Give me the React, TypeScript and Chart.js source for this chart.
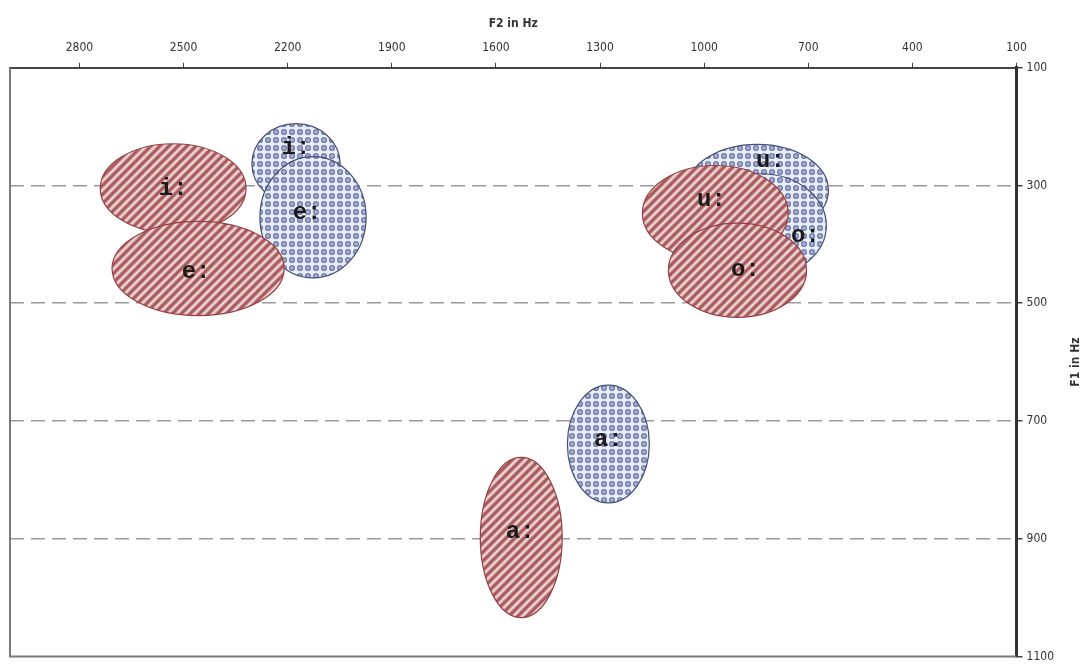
import React, { useEffect, useRef } from "react";
import { Chart, registerables } from "chart.js";

Chart.register(...registerables);

// Axis ticks
const xTicks = [100, 400, 700, 1000, 1300, 1600, 1900, 2200, 2500, 2800];
const yTicks = [100, 300, 500, 700, 900, 1100];

// Vowel labels
const vowels = ["i:", "e:", "u:", "o:", "a:"];

// Blue (cross-hatched) ellipses
const blueF2 = [2176, 2127, 847, 838, 1276];
const blueF1 = [263, 354, 308, 368, 739];
const blueRF2 = [127, 153, 205, 190, 118];
const blueRF1 = [68, 103, 78, 88, 100];
const blueLabelF2 = [2176, 2144, 809, 708, 1276];
const blueLabelF1 = [237, 347, 259, 385, 732];

// Red (striped) ellipses
const redF2 = [2530, 2458, 968, 904, 1527];
const redF1 = [305, 441, 347, 444, 898];
const redRF2 = [210, 248, 210, 199, 118];
const redRF1 = [76, 80, 81, 80, 136];
const redLabelF2 = [2530, 2464, 979, 881, 1530];
const redLabelF1 = [305, 447, 325, 444, 888];

const narrow = "'Liberation Sans Narrow', 'DejaVu Sans Condensed', 'Arial Narrow', sans-serif";

function makeRedPattern(ctx: CanvasRenderingContext2D) {
  const s = 9;
  const c = document.createElement("canvas");
  c.width = s;
  c.height = s;
  const g = c.getContext("2d")!;
  g.fillStyle = "#d4a0a0";
  g.fillRect(0, 0, s, s);
  g.lineCap = "square";
  for (let k = -1; k <= 1; k++) {
    g.strokeStyle = "#a9585a";
    g.lineWidth = 2.6;
    g.beginPath();
    g.moveTo(k * s, s);
    g.lineTo(k * s + s, 0);
    g.stroke();
    g.strokeStyle = "#f1e0e0";
    g.lineWidth = 1.5;
    g.beginPath();
    g.moveTo(k * s + s / 2, s);
    g.lineTo(k * s + s / 2 + s, 0);
    g.stroke();
  }
  g.fillStyle = "rgba(110,110,110,0.55)";
  g.beginPath();
  g.arc(s / 2, s / 2, 1, 0, Math.PI * 2);
  g.fill();
  return ctx.createPattern(c, "repeat")!;
}

function makeBluePattern(ctx: CanvasRenderingContext2D) {
  const s = 8;
  const c = document.createElement("canvas");
  c.width = s;
  c.height = s;
  const g = c.getContext("2d")!;
  g.fillStyle = "#e9edf8";
  g.fillRect(0, 0, s, s);
  g.fillStyle = "#aab4d8";
  g.beginPath();
  g.arc(s / 2, s / 2, 3, 0, Math.PI * 2);
  g.fill();
  g.strokeStyle = "#6b739c";
  g.lineWidth = 1.1;
  g.beginPath();
  g.arc(s / 2, s / 2, 2.3, 0, Math.PI * 2);
  g.stroke();
  return ctx.createPattern(c, "repeat")!;
}

const ellipsePlugin = {
  id: "ellipses",
  afterDatasetsDraw(chart: any) {
    const { ctx, scales } = chart;
    const xs = scales.x;
    const ys = scales.y;
    const red = makeRedPattern(ctx);
    const blue = makeBluePattern(ctx);
    const drawOne = (
      cx: number, cy: number, rx: number, ry: number,
      fill: CanvasPattern, stroke: string
    ) => {
      const px = xs.getPixelForValue(cx);
      const py = ys.getPixelForValue(cy);
      const prx = Math.abs(xs.getPixelForValue(cx + rx) - px);
      const pry = Math.abs(ys.getPixelForValue(cy + ry) - py);
      ctx.save();
      ctx.beginPath();
      ctx.ellipse(px, py, prx, pry, 0, 0, Math.PI * 2);
      ctx.fillStyle = fill;
      ctx.fill();
      ctx.strokeStyle = stroke;
      ctx.lineWidth = 1.2;
      ctx.stroke();
      ctx.restore();
    };
    const drawLabel = (lx: number, ly: number, text: string) => {
      ctx.save();
      ctx.font = "bold 24px 'Liberation Mono', 'DejaVu Sans Mono', monospace";
      ctx.fillStyle = "#1a1a1a";
      ctx.textAlign = "center";
      ctx.textBaseline = "middle";
      ctx.fillText(text, xs.getPixelForValue(lx), ys.getPixelForValue(ly));
      ctx.restore();
    };
    for (let i = 0; i < vowels.length; i++) {
      drawOne(blueF2[i], blueF1[i], blueRF2[i], blueRF1[i], blue, "#44507a");
    }
    for (let i = 0; i < vowels.length; i++) {
      drawLabel(blueLabelF2[i], blueLabelF1[i], vowels[i]);
    }
    for (let i = 0; i < vowels.length; i++) {
      drawOne(redF2[i], redF1[i], redRF2[i], redRF1[i], red, "#964044");
      drawLabel(redLabelF2[i], redLabelF1[i], vowels[i]);
    }
  },
  afterDraw(chart: any) {
    const { ctx, chartArea } = chart;
    ctx.save();
    ctx.strokeStyle = "#7a7a7a";
    ctx.lineWidth = 2;
    ctx.beginPath();
    ctx.moveTo(chartArea.left, chartArea.top);
    ctx.lineTo(chartArea.left, chartArea.bottom);
    ctx.lineTo(chartArea.right, chartArea.bottom);
    ctx.stroke();
    // rotated F1 title (reads bottom to top)
    ctx.translate(1076, (chartArea.top + chartArea.bottom) / 2);
    ctx.rotate(-Math.PI / 2);
    ctx.font = `bold 12px ${narrow}`;
    ctx.fillStyle = "#333";
    ctx.textAlign = "center";
    ctx.textBaseline = "middle";
    ctx.fillText("F1 in Hz", 0, 0);
    ctx.restore();
  },
};

export default function App() {
  const ref = useRef<HTMLCanvasElement>(null);
  useEffect(() => {
    document.body.style.margin = "0";
    const canvas = ref.current!;
    const chart = new Chart(canvas, {
      type: "scatter",
      data: {
        datasets: [
          {
            label: "blue",
            data: blueF2.map((v, i) => ({ x: v, y: blueF1[i] })),
            pointRadius: 0,
          },
          {
            label: "red",
            data: redF2.map((v, i) => ({ x: v, y: redF1[i] })),
            pointRadius: 0,
          },
        ],
      },
      options: {
        animation: false,
        responsive: false,
        maintainAspectRatio: false,
        devicePixelRatio: 1,
        layout: { padding: { left: 10, top: 17, right: 30, bottom: 0 } },
        plugins: {
          legend: { display: false },
          tooltip: { enabled: false },
        },
        scales: {
          x: {
            type: "linear",
            position: "top",
            reverse: true,
            min: 100,
            max: 3000,
            afterBuildTicks: (s: any) => {
              s.ticks = xTicks.map((v) => ({ value: v }));
            },
            ticks: {
              autoSkip: false,
              maxRotation: 0,
              padding: 8,
              color: "#333",
              font: { family: narrow, size: 12 },
              callback: (v: any) => String(v),
            },
            grid: {
              drawOnChartArea: false,
              drawTicks: true,
              tickLength: 5,
              color: "#444",
              tickColor: "#444",
            },
            border: { color: "#444", width: 2 },
            title: {
              display: true,
              text: "F2 in Hz",
              color: "#333",
              font: { family: narrow, size: 12, weight: "bold" },
              padding: { top: 0, bottom: 1 },
            },
          },
          y: {
            type: "linear",
            position: "right",
            reverse: true,
            min: 100,
            max: 1100,
            afterBuildTicks: (s: any) => {
              s.ticks = yTicks.map((v) => ({ value: v }));
            },
            ticks: {
              autoSkip: false,
              padding: 4,
              color: "#333",
              font: { family: narrow, size: 12, lineHeight: 0.6 },
              callback: (v: any) => String(v),
            },
            grid: {
              color: (c: any) =>
                c.tick && (c.tick.value === 100 || c.tick.value === 1100)
                  ? "rgba(0,0,0,0)"
                  : "#9a9a9a",
              lineWidth: 1.5,
              tickColor: "#444",
              tickLength: 6,
              tickBorderDash: [],
            },
            border: { color: "#333", width: 3, dash: [14, 7] },
          },
        },
      },
      plugins: [ellipsePlugin],
    } as any);
    return () => chart.destroy();
  }, []);
  return (
    <div style={{ position: "fixed", left: 0, top: 0, width: 1088, height: 664, background: "#fff" }}>
      <canvas ref={ref} width={1088} height={664} style={{ width: 1088, height: 664 }} />
    </div>
  );
}
